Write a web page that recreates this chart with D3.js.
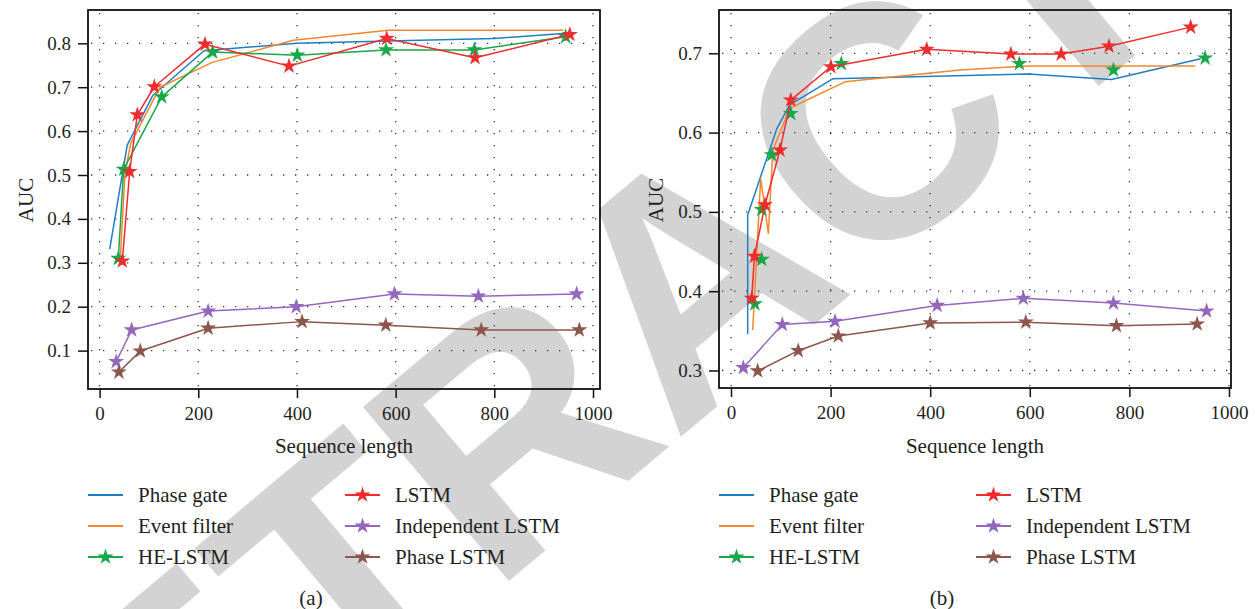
<!DOCTYPE html>
<html><head><meta charset="utf-8">
<script src="https://cdn.jsdelivr.net/npm/d3@7"></script>
<style>body{margin:0;background:#fff}svg{display:block}</style>
</head><body>
<svg id="chart" width="1255" height="609"></svg>
<script>
// ---------- data ----------
const seriesNames = ["Phase gate", "Event filter", "HE-LSTM", "LSTM", "Independent LSTM", "Phase LSTM"];
const seriesColors = ["#1f7fc2", "#f5862a", "#17a84a", "#ec2d2d", "#9467bd", "#8c564b"];
const xTicks = [0, 200, 400, 600, 800, 1000];
const yTicksA = [0.1, 0.2, 0.3, 0.4, 0.5, 0.6, 0.7, 0.8];
const yTicksB = [0.3, 0.4, 0.5, 0.6, 0.7];

// panel (a)
const aPhaseGate = [[20.5,0.331],[56,0.568],[107.6,0.681],[211.6,0.783],[400,0.800],[584.5,0.805],[801,0.811],[947,0.823]];
const aEventFilter = [[42,0.313],[51.5,0.504],[63,0.572],[122.4,0.700],[227,0.756],[392.6,0.807],[585,0.830],[940,0.830]];
const aHELSTM = [[37.9,0.310],[48.8,0.513],[125.9,0.678],[229,0.780],[400.7,0.773],[580.5,0.785],[759.4,0.785],[944.7,0.815]];
const aLSTM = [[46,0.304],[61,0.508],[76.4,0.637],[110.9,0.701],[213.6,0.798],[383.9,0.748],[581.9,0.811],[760.9,0.767],[953,0.820]];
const aIndependent = [[33.6,0.075],[65,0.147],[220,0.190],[398.6,0.200],[597.5,0.229],[767.7,0.224],[966.8,0.229]];
const aPhaseLSTM = [[39.1,0.051],[82.5,0.099],[220,0.151],[410.4,0.166],[580,0.158],[773.4,0.147],[972.2,0.147]];

// panel (b)
const bPhaseGate = [[33.5,0.346],[33.5,0.496],[92,0.605],[118,0.635],[205,0.668],[597,0.674],[764,0.667],[943,0.693]];
const bEventFilter = [[43.6,0.351],[59.6,0.542],[75,0.473],[84,0.578],[118.5,0.631],[229,0.664],[460,0.679],[597,0.684],[932,0.684]];
const bHELSTM = [[48,0.384],[61.7,0.440],[61.7,0.503],[81.7,0.572],[120,0.624],[221.5,0.687],[579,0.687],[768,0.679],[952,0.694]];
const bLSTM = [[41.6,0.391],[47,0.444],[68.3,0.509],[98.4,0.578],[120,0.641],[200.6,0.683],[393,0.705],[562,0.699],[663,0.699],[759,0.709],[923,0.733]];
const bIndependent = [[24.7,0.3035],[103,0.358],[209,0.362],[414,0.382],[587,0.391],[768,0.385],[955,0.375]];
const bPhaseLSTM = [[53.6,0.2994],[135,0.325],[215.5,0.3435],[400,0.360],[592,0.361],[774,0.3565],[936,0.3586]];

const xLabel = "Sequence length";
const yLabel = "AUC";
const watermark = "RETRACTED";

// ---------- drawing ----------
const svg = d3.select("#chart");
const FONT = "'Liberation Serif','Times New Roman',serif";
const INK = "#231f20";

// watermark (behind everything)
svg.append("g")
  .attr("transform", "translate(690,275) rotate(-40)")
  .append("text")
  .attr("x", 0).attr("y", 118)
  .attr("text-anchor", "middle")
  .attr("font-family", "'Liberation Sans',Arial,sans-serif")
  .attr("font-weight", "bold")
  .attr("font-size", 330)
  .attr("fill", "#d3d3d3")
  .text(watermark);

const panels = [
  {
    frame: {x0: 88, x1: 600, y0: 10, y1: 389},
    xRange: [99.6, 593], yDomain: [0.1, 0.8], yRange: [350.6, 43.3], yTicks: yTicksA,
    data: [aPhaseGate, aEventFilter, aHELSTM, aLSTM, aIndependent, aPhaseLSTM],
    markers: [false, false, true, true, true, true],
    lines: [true, true, true, true, true, true],
    yLabelX: 26, legendX: 88, label: "(a)", labelX: 311, xTitleX: 344
  },
  {
    frame: {x0: 719, x1: 1231, y0: 10, y1: 388},
    xRange: [731, 1229], yDomain: [0.3, 0.7], yRange: [370.5, 53.3], yTicks: yTicksB,
    data: [bPhaseGate, bEventFilter, bHELSTM, bLSTM, bIndependent, bPhaseLSTM],
    markers: [false, false, true, true, true, true],
    lines: [true, true, false, true, true, true],
    yLabelX: 656, legendX: 719, label: "(b)", labelX: 942, xTitleX: 975
  }
];

const star = d3.symbol().type(d3.symbolStar).size(80);

panels.forEach(p => {
  const f = p.frame;
  const x = d3.scaleLinear().domain([0, 1000]).range(p.xRange);
  const y = d3.scaleLinear().domain(p.yDomain).range(p.yRange);
  const g = svg.append("g");

  // dotted grid
  g.append("g").selectAll("line").data(xTicks).join("line")
    .attr("x1", d => x(d)).attr("x2", d => x(d))
    .attr("y1", f.y0 + 3).attr("y2", f.y1)
    .attr("stroke", "#333").attr("stroke-width", 1.3)
    .attr("stroke-dasharray", "1.3,10.7");
  g.append("g").selectAll("line").data(p.yTicks).join("line")
    .attr("x1", f.x0 + 3).attr("x2", f.x1)
    .attr("y1", d => y(d)).attr("y2", d => y(d))
    .attr("stroke", "#333").attr("stroke-width", 1.3)
    .attr("stroke-dasharray", "1.3,10.7");

  // frame
  g.append("rect").attr("x", f.x0).attr("y", f.y0)
    .attr("width", f.x1 - f.x0).attr("height", f.y1 - f.y0)
    .attr("fill", "none").attr("stroke", "#111").attr("stroke-width", 1.8);

  // axes (outward ticks)
  const xAxis = g.append("g").attr("transform", `translate(0,${f.y1})`)
    .call(d3.axisBottom(x).tickValues(xTicks).tickSize(9).tickPadding(9).tickFormat(d3.format("d")));
  const yAxis = g.append("g").attr("transform", `translate(${f.x0},0)`)
    .call(d3.axisLeft(y).tickValues(p.yTicks).tickSize(10).tickPadding(7).tickFormat(d3.format(".1f")));
  [xAxis, yAxis].forEach(ax => {
    ax.select(".domain").remove();
    ax.selectAll(".tick line").attr("stroke", "#111").attr("stroke-width", 1.5);
    ax.selectAll(".tick text").attr("font-family", FONT).attr("font-size", 19).attr("fill", INK);
  });

  // axis titles
  g.append("text").attr("x", p.xTitleX).attr("y", 453).attr("text-anchor", "middle")
    .attr("font-family", FONT).attr("font-size", 21).attr("fill", INK).text(xLabel);
  g.append("text").attr("transform", `translate(${p.yLabelX + 7},200) rotate(-90)`)
    .attr("text-anchor", "middle")
    .attr("font-family", FONT).attr("font-size", 21).attr("fill", INK).text(yLabel);

  // series
  const line = d3.line().x(d => x(d[0])).y(d => y(d[1]));
  p.data.forEach((ser, i) => {
    if (p.lines[i]) {
      g.append("path").datum(ser).attr("d", line)
        .attr("fill", "none").attr("stroke", seriesColors[i]).attr("stroke-width", 1.5)
        .attr("stroke-linejoin", "round");
    }
    if (p.markers[i]) {
      g.append("g").selectAll("path").data(ser).join("path")
        .attr("d", star)
        .attr("transform", d => `translate(${x(d[0])},${y(d[1])})`)
        .attr("fill", seriesColors[i]);
    }
  });

  // legend
  const rowsY = [495, 526, 557];
  seriesNames.forEach((name, i) => {
    const col = i < 3 ? 0 : 1;
    const row = i % 3;
    const lx = p.legendX + (col === 0 ? 0 : 257);
    const ly = rowsY[row];
    const lg = g.append("g");
    lg.append("line").attr("x1", lx).attr("x2", lx + 35).attr("y1", ly).attr("y2", ly)
      .attr("stroke", seriesColors[i]).attr("stroke-width", 1.8);
    if (i >= 2) {
      lg.append("path").attr("d", star).attr("transform", `translate(${lx + 17.5},${ly})`)
        .attr("fill", seriesColors[i]);
    }
    lg.append("text").attr("x", lx + 50).attr("y", ly + 7)
      .attr("font-family", FONT).attr("font-size", 21).attr("fill", INK).text(name);
  });

  // panel label
  g.append("text").attr("x", p.labelX).attr("y", 605).attr("text-anchor", "middle")
    .attr("font-family", FONT).attr("font-size", 21).attr("fill", INK).text(p.label);
});
</script>
</body></html>
